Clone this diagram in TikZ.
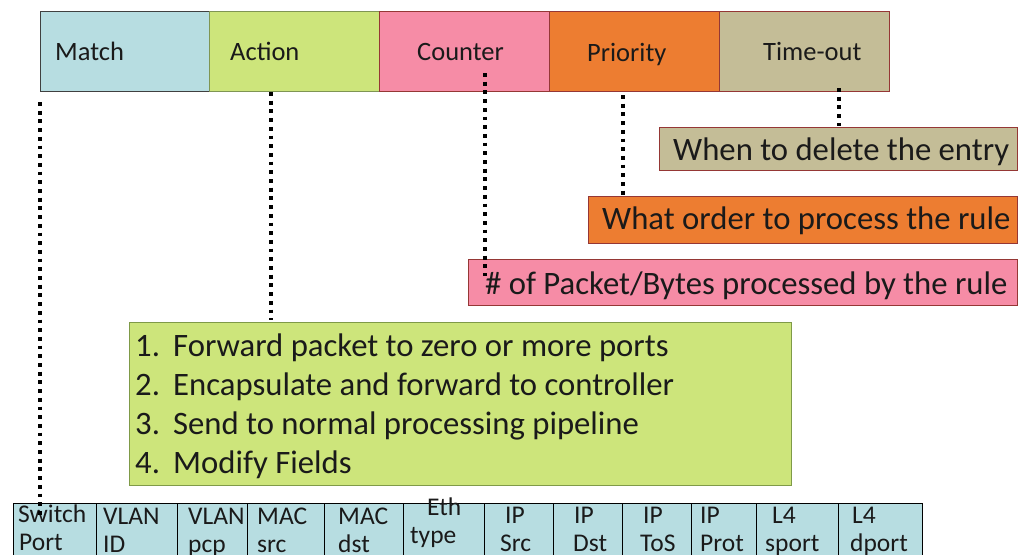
\documentclass[tikz,border=0pt]{standalone}
\usepackage{fontspec}
\setmainfont{Carlito}
\definecolor{matchc}{HTML}{B7DDE1}
\definecolor{actionc}{HTML}{CDE57B}
\definecolor{counterc}{HTML}{F68CA6}
\definecolor{prioc}{HTML}{ED7D31}
\definecolor{timec}{HTML}{C4BD97}
\definecolor{redb}{HTML}{953735}
\definecolor{greenb}{HTML}{7F9A48}
\definecolor{grayb}{HTML}{404040}
\definecolor{txt}{HTML}{1A1A1A}
\tikzset{
  box/.style={draw, line width=1pt, anchor=north west, inner sep=0pt},
  toplbl/.style={anchor=base west, inner sep=0pt, text=txt, font=\fontsize{26.5}{30}\selectfont},
  biglbl/.style={anchor=base west, inner sep=0pt, text=txt, font=\fontsize{32.7}{36}\selectfont},
  cell/.style={draw=black, line width=1.2pt, fill=matchc, anchor=north west, inner sep=0pt, minimum height=70pt},
  cellt/.style={anchor=base west, inner sep=0pt, text=txt, font=\fontsize{25.5}{28}\selectfont},
  dotline/.style={line width=3.8pt, dash pattern=on 3.8pt off 4.9pt, black}
}
\begin{document}
\begin{tikzpicture}[x=1pt,y=-1pt]
\useasboundingbox (0,0) rectangle (1019,554);
\clip (0,0) rectangle (1019,554);
\fill[white] (0,0) rectangle (1019,554);
% top row
\node[box, draw=grayb, fill=matchc, minimum width=169pt, minimum height=80pt] (match) at (40,11) {};
\node[box, draw=greenb!80!gray, fill=actionc, minimum width=170pt, minimum height=80pt] (action) at (209,11) {};
\node[box, draw=redb, fill=counterc, minimum width=170pt, minimum height=80pt] (counter) at (379,11) {};
\node[box, draw=redb, fill=prioc, minimum width=170pt, minimum height=80pt] (prio) at (549,11) {};
\node[box, draw=redb, fill=timec, minimum width=170pt, minimum height=80pt] (tout) at (719,11) {};
\node[toplbl] (matchT) at (55,60) {Match};
\node[toplbl] (actionT) at (230,60) {Action};
\node[toplbl] (counterT) at (417,60) {Counter};
\node[toplbl] (prioT) at (587,61) {Priority};
\node[toplbl] (toutT) at (763,60) {Time-out};
% description boxes
\node[box, draw=redb, fill=timec, minimum width=358pt, minimum height=43pt] (del) at (659,127) {};
\node[biglbl] (delT) at (673,160) {When to delete the entry};
\node[box, draw=redb, fill=prioc, minimum width=429pt, minimum height=47pt] (ord) at (588,196) {};
\node[biglbl] (ordT) at (602,229) {What order to process the rule};
\node[box, draw=redb, fill=counterc, minimum width=549pt, minimum height=46pt] (cnt) at (468,259) {};
\node[biglbl] (cntT) at (485,294) {\# of Packet/Bytes processed by the rule};
\node[box, draw=greenb, fill=actionc, minimum width=662pt, minimum height=163pt] (act) at (129,322) {};
\node[biglbl] (n1) at (135,356) {1.};
\node[biglbl] (l1) at (173,356) {Forward packet to zero or more ports};
\node[biglbl] (n2) at (135,395) {2.};
\node[biglbl] (l2) at (173,395) {Encapsulate and forward to controller};
\node[biglbl] (n3) at (135,434) {3.};
\node[biglbl] (l3) at (173,434) {Send to normal processing pipeline};
\node[biglbl] (n4) at (135,473) {4.};
\node[biglbl] (l4) at (173,473) {Modify Fields};
% table
\node[cell, minimum width=83pt] (c1) at (13,503) {};
\node[cell, minimum width=81pt] (c2) at (96,503) {};
\node[cell, minimum width=70pt] (c3) at (177,503) {};
\node[cell, minimum width=77pt] (c4) at (247,503) {};
\node[cell, minimum width=79pt] (c5) at (324,503) {};
\node[cell, minimum width=81pt] (c6) at (403,503) {};
\node[cell, minimum width=69pt] (c7) at (484,503) {};
\node[cell, minimum width=69pt] (c8) at (553,503) {};
\node[cell, minimum width=69pt] (c9) at (622,503) {};
\node[cell, minimum width=65pt] (c10) at (691,503) {};
\node[cell, minimum width=82pt] (c11) at (756,503) {};
\node[cell, minimum width=84pt] (c12) at (838,503) {};
\node[cellt] (t1a) at (18,522) {Switch};
\node[cellt] (t1b) at (19,550) {Port};
\node[cellt] (t2a) at (103,524) {VLAN};
\node[cellt] (t2b) at (103,552) {ID};
\node[cellt] (t3a) at (188,524) {VLAN};
\node[cellt] (t3b) at (188,552) {pcp};
\node[cellt] (t4a) at (257,524) {MAC};
\node[cellt] (t4b) at (257,552) {src};
\node[cellt] (t5a) at (338,524) {MAC};
\node[cellt] (t5b) at (338,552) {dst};
\node[cellt] (t6a) at (427,515) {Eth};
\node[cellt] (t6b) at (410,543) {type};
\node[cellt] (t7a) at (505,523) {IP};
\node[cellt] (t7b) at (500,551) {Src};
\node[cellt] (t8a) at (574,523) {IP};
\node[cellt] (t8b) at (573,551) {Dst};
\node[cellt] (t9a) at (643,523) {IP};
\node[cellt] (t9b) at (640,551) {ToS};
\node[cellt] (t10a) at (700,523) {IP};
\node[cellt] (t10b) at (700,551) {Prot};
\node[cellt] (t11a) at (772,523) {L4};
\node[cellt] (t11b) at (765,551) {sport};
\node[cellt] (t12a) at (852,523) {L4};
\node[cellt] (t12b) at (850,551) {dport};
% dotted connectors
\coordinate (m0) at (40,102); \coordinate (m1) at (40,516);
\coordinate (a0) at (271,92);  \coordinate (a1) at (271,320);
\coordinate (k0) at (485,73);  \coordinate (k1) at (485,276);
\coordinate (p0) at (623,95);  \coordinate (p1) at (623,195);
\coordinate (o0) at (839,88);  \coordinate (o1) at (839,126);
\draw[dotline] (m0) -- (m1);
\draw[dotline] (a0) -- (a1);
\draw[dotline] (k0) -- (k1);
\draw[dotline] (p0) -- (p1);
\draw[dotline] (o0) -- (o1);
\end{tikzpicture}
\end{document}
